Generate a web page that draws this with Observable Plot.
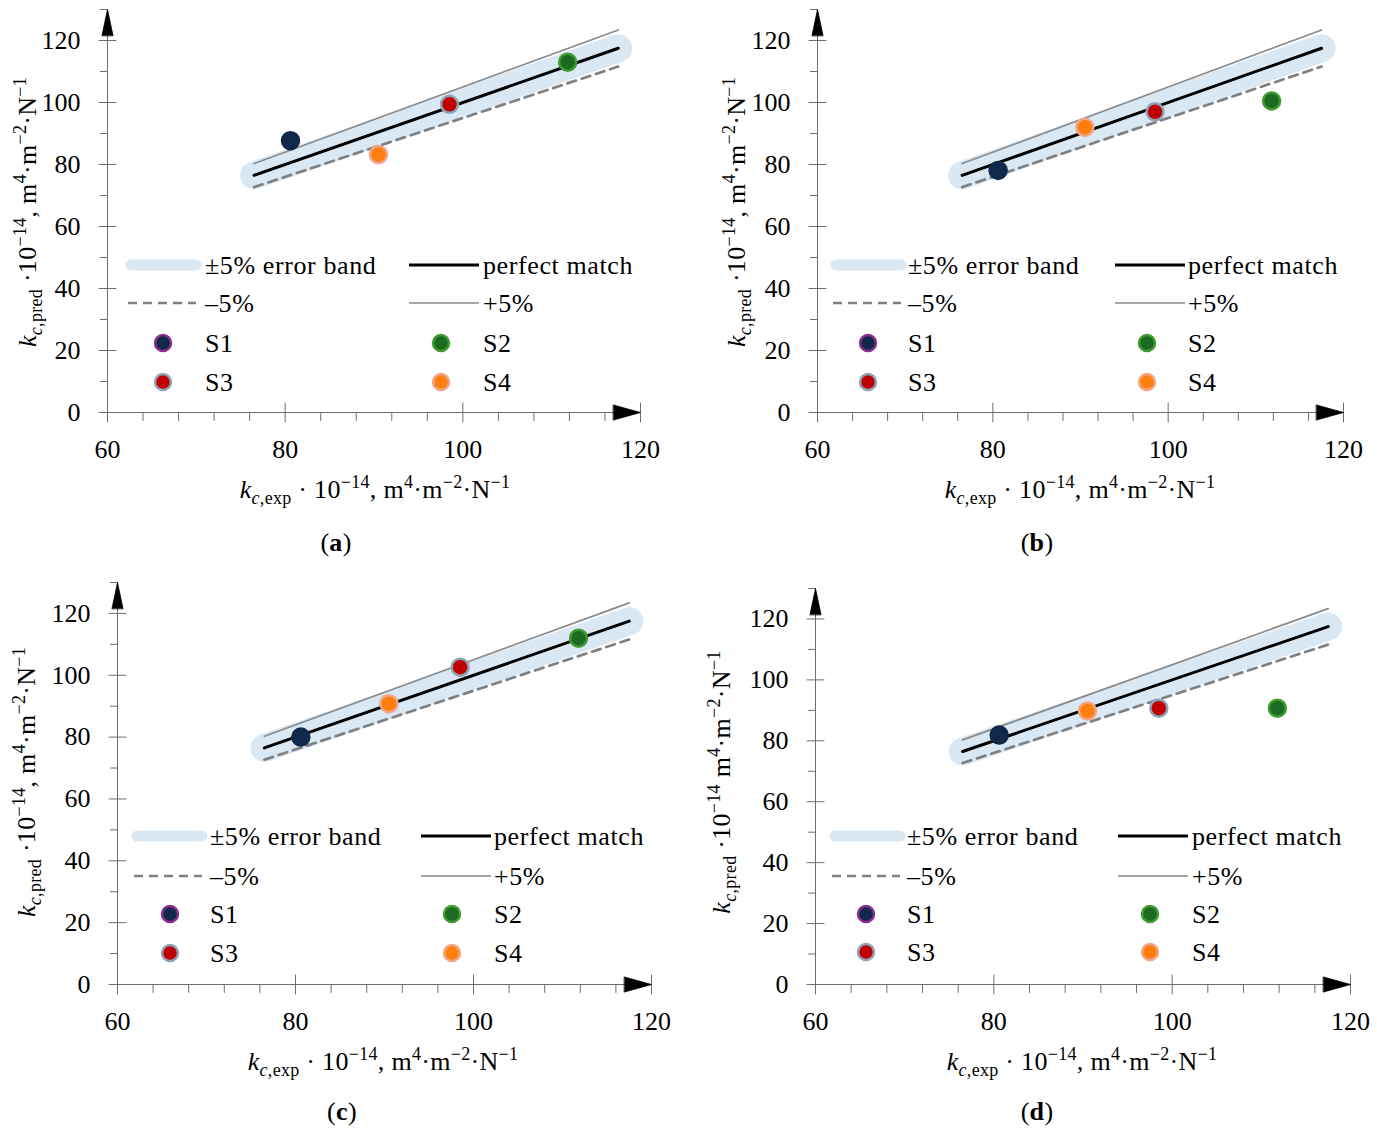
<!DOCTYPE html>
<html><head><meta charset="utf-8">
<script src="https://cdn.jsdelivr.net/npm/d3@7"></script>
<script src="https://cdn.jsdelivr.net/npm/@observablehq/plot@0.6"></script>
<style>
body{margin:0;background:#fff;}
#page{position:relative;width:1377px;height:1136px;font-family:"Liberation Serif",serif;color:#000;overflow:hidden;}
.panel{position:absolute;}
.lab{position:absolute;white-space:nowrap;font-size:26px;line-height:1;letter-spacing:0.3px;transform:translate(-50%,-50%);}
.lab sub,.lab sup{font-size:18px;line-height:0;}
.ylab{transform:translate(-50%,-50%) rotate(-90deg);}
#legend{position:absolute;left:0;top:0;}
</style></head><body><div id="page"></div>
<script>
// ---- data ----
const series = ["S1", "S2", "S3", "S4"];
const kExp = [80.6, 111.8, 98.5, 90.5];
const kPredA = [87.7, 113.0, 99.4, 83.2];
const kPredB = [78.1, 100.5, 97.0, 92.0];
const kPredC = [80.0, 112.0, 102.6, 90.8];
const kPredD = [81.9, 90.7, 90.7, 89.8];
const refX = [76.5, 117.5];
const perfectY = [76.5, 117.5];
const plusY = [80.3, 123.4];
const minusY = [72.7, 111.6];
const xMajor = [60, 80, 100, 120];
const xMinor = [64, 68, 72, 76, 84, 88, 92, 96, 104, 108, 112, 116];
const yMajor = [0, 20, 40, 60, 80, 100, 120];
const yMinor = [10, 30, 50, 70, 90, 110, 130];
const panelLetters = ["a", "b", "c", "d"];
const legendLabels = ["±5% error band", "perfect match", "–5%", "+5%"];

// ---- styles ----
const fills = {S1: "#10294a", S2: "#1b6b23", S3: "#c00000", S4: "#ff7f0e"};
const rings = {S1: "#8b2e8b", S2: "#3f9b2f", S3: "#8ea3b7", S4: "#f2a585"};
const plotRings = {S1: "#10294a", S2: "#3f9b2f", S3: "#8ea3b7", S4: "#f2a585"};
const bandColor = "#dae8f4";
const axisColor = "#6e6e6e";

// ---- layout ----
const panels = [
  {pred: kPredA, left: 0, top: 0, width: 688, height: 472, ml: 107, mr: 48, mt: 9, mb: 60,
   ylab: [28, 212], xlab: [375, 490], cap: [336, 543], comma: true,
   rows: [265, 303, 343, 382], c1: {s0: 131, s1: 196, dot: 163, text: 205}, c2: {s0: 409, s1: 479, dot: 441, text: 483}},
  {pred: kPredB, left: 688, top: 0, width: 689, height: 472, ml: 129, mr: 34, mt: 9, mb: 60,
   ylab: [737, 212], xlab: [1080, 490], cap: [1037, 543], comma: true,
   rows: [265, 303, 343, 382], c1: {s0: 836, s1: 901, dot: 868, text: 908}, c2: {s0: 1115, s1: 1185, dot: 1147, text: 1188}},
  {pred: kPredC, left: 0, top: 570, width: 688, height: 474, ml: 117, mr: 37, mt: 12, mb: 60,
   ylab: [27, 782], xlab: [383, 1062], cap: [342, 1112], comma: true,
   rows: [836, 876, 914, 953], c1: {s0: 137, s1: 202, dot: 170, text: 210}, c2: {s0: 421, s1: 491, dot: 452, text: 494}},
  {pred: kPredD, left: 688, top: 570, width: 689, height: 474, ml: 127, mr: 27, mt: 18, mb: 60,
   ylab: [722, 782], xlab: [1082, 1062], cap: [1037, 1112], comma: false,
   rows: [836, 876, 914, 952], c1: {s0: 835, s1: 900, dot: 866, text: 907}, c2: {s0: 1118, s1: 1188, dot: 1150, text: 1192}}
];

const tickShape = {draw(ctx, l) { ctx.moveTo(0, 0); ctx.lineTo(0, -l); }};
const triShape = {draw(ctx, l, r) { ctx.moveTo(-r, 0); ctx.lineTo(0, -l); ctx.lineTo(r, 0); ctx.closePath(); }};

const page = document.getElementById("page");
const lineData = (ys) => refX.map((x, i) => ({x, y: ys[i]}));

panels.forEach((p, pi) => {
  const pts = series.map((s, i) => ({s, x: kExp[i], y: p.pred[i]}));
  const chart = Plot.plot({
    width: p.width, height: p.height,
    marginLeft: p.ml, marginRight: p.mr, marginTop: p.mt, marginBottom: p.mb,
    x: {domain: [60, 120]},
    y: {domain: [0, 130]},
    style: {fontFamily: "Liberation Serif, serif", fontSize: "26px", background: "transparent", overflow: "visible", color: "#000"},
    marks: [
      Plot.line(lineData(perfectY), {x: "x", y: "y", stroke: bandColor, strokeWidth: 28, strokeLinecap: "round"}),
      Plot.line(lineData(plusY), {x: "x", y: "y", stroke: "#8a8a8a", strokeWidth: 1.7}),
      Plot.line(lineData(minusY), {x: "x", y: "y", stroke: "#808080", strokeWidth: 2.7, strokeDasharray: "9,6"}),
      Plot.line(lineData(perfectY), {x: "x", y: "y", stroke: "#000", strokeWidth: 3}),
      Plot.ruleY([0], {stroke: axisColor, strokeWidth: 1}),
      Plot.ruleX([60], {stroke: axisColor, strokeWidth: 1}),
      Plot.vector(xMajor, {x: d => d, y: () => 0, rotate: 0, length: 19, anchor: "middle", shape: tickShape, stroke: axisColor, strokeWidth: 1}),
      Plot.vector(xMinor, {x: d => d, y: () => 0, rotate: 180, length: 8, anchor: "start", shape: tickShape, stroke: axisColor, strokeWidth: 1}),
      Plot.vector(yMajor, {x: () => 60, y: d => d, rotate: 90, length: 17, anchor: "middle", shape: tickShape, stroke: axisColor, strokeWidth: 1}),
      Plot.vector(yMinor, {x: () => 60, y: d => d, rotate: 270, length: 7, anchor: "start", shape: tickShape, stroke: axisColor, strokeWidth: 1}),
      Plot.vector([120], {x: d => d, y: () => 0, rotate: 90, length: 27, r: 7.5, anchor: "end", shape: triShape, fill: "#000", stroke: "#000", strokeWidth: 0.8}),
      Plot.vector([130], {x: () => 60, y: d => d, rotate: 0, length: 26, r: 5.5, anchor: "end", shape: triShape, fill: "#000", stroke: "#000", strokeWidth: 0.8}),
      Plot.axisX({ticks: xMajor, tickSize: 0, tickPadding: 27, tickFormat: d => String(d), label: null, fontSize: 26, fill: "#000"}),
      Plot.axisY({ticks: yMajor, tickSize: 0, tickPadding: 27, tickFormat: d => String(d), label: null, fontSize: 26, fill: "#000"}),
      ...series.map(s => Plot.dot(pts.filter(d => d.s === s), {x: "x", y: "y", r: 8.5, fill: fills[s], stroke: plotRings[s], strokeWidth: 2.5}))
    ]
  });
  const wrap = document.createElement("div");
  wrap.className = "panel";
  wrap.style.left = p.left + "px";
  wrap.style.top = p.top + "px";
  wrap.appendChild(chart);
  page.appendChild(wrap);

  const sep = p.comma ? "," : "";
  const yl = document.createElement("div");
  yl.className = "lab ylab";
  yl.style.left = p.ylab[0] + "px"; yl.style.top = p.ylab[1] + "px";
  yl.innerHTML = `<i>k</i><sub><i>c</i>,pred</sub> ·10<sup>−14</sup>${sep} m<sup>4</sup>·m<sup>−2</sup>·N<sup>−1</sup>`;
  page.appendChild(yl);
  const xl = document.createElement("div");
  xl.className = "lab";
  xl.style.left = p.xlab[0] + "px"; xl.style.top = p.xlab[1] + "px";
  xl.innerHTML = `<i>k</i><sub><i>c</i>,exp</sub> · 10<sup>−14</sup>, m<sup>4</sup>·m<sup>−2</sup>·N<sup>−1</sup>`;
  page.appendChild(xl);
  const cp = document.createElement("div");
  cp.className = "lab";
  cp.style.left = p.cap[0] + "px"; cp.style.top = p.cap[1] + "px";
  cp.innerHTML = `(<b>${panelLetters[pi]}</b>)`;
  page.appendChild(cp);
});

// ---- legends ----
const svg = d3.select(page).append("svg").attr("id", "legend").attr("width", 1377).attr("height", 1136)
  .style("font-family", "Liberation Serif, serif").style("font-size", "26px").style("letter-spacing", "0.6px");
panels.forEach(p => {
  const g = svg.append("g");
  const [r1, r2, r3, r4] = p.rows;
  g.append("line").attr("x1", p.c1.s0).attr("x2", p.c1.s1).attr("y1", r1).attr("y2", r1)
    .attr("stroke", bandColor).attr("stroke-width", 11).attr("stroke-linecap", "round");
  g.append("line").attr("x1", p.c2.s0).attr("x2", p.c2.s1).attr("y1", r1).attr("y2", r1)
    .attr("stroke", "#000").attr("stroke-width", 3);
  g.append("line").attr("x1", p.c1.s0 - 3).attr("x2", p.c1.s1).attr("y1", r2).attr("y2", r2)
    .attr("stroke", "#808080").attr("stroke-width", 2.7).attr("stroke-dasharray", "9,6");
  g.append("line").attr("x1", p.c2.s0).attr("x2", p.c2.s1).attr("y1", r2).attr("y2", r2)
    .attr("stroke", "#8a8a8a").attr("stroke-width", 1.7);
  const texts = [[p.c1.text, r1, legendLabels[0]], [p.c2.text, r1, legendLabels[1]], [p.c1.text, r2, legendLabels[2]], [p.c2.text, r2, legendLabels[3]],
    [p.c1.text, r3, series[0]], [p.c2.text, r3, series[1]], [p.c1.text, r4, series[2]], [p.c2.text, r4, series[3]]];
  texts.forEach(([x, y, t]) => g.append("text").attr("x", x).attr("y", y).attr("dy", "0.34em").text(t));
  const dots = [[p.c1.dot, r3, "S1"], [p.c2.dot, r3, "S2"], [p.c1.dot, r4, "S3"], [p.c2.dot, r4, "S4"]];
  dots.forEach(([x, y, s]) => g.append("circle").attr("cx", x).attr("cy", y).attr("r", 8)
    .attr("fill", fills[s]).attr("stroke", rings[s]).attr("stroke-width", 2.5));
});
</script></body></html>
